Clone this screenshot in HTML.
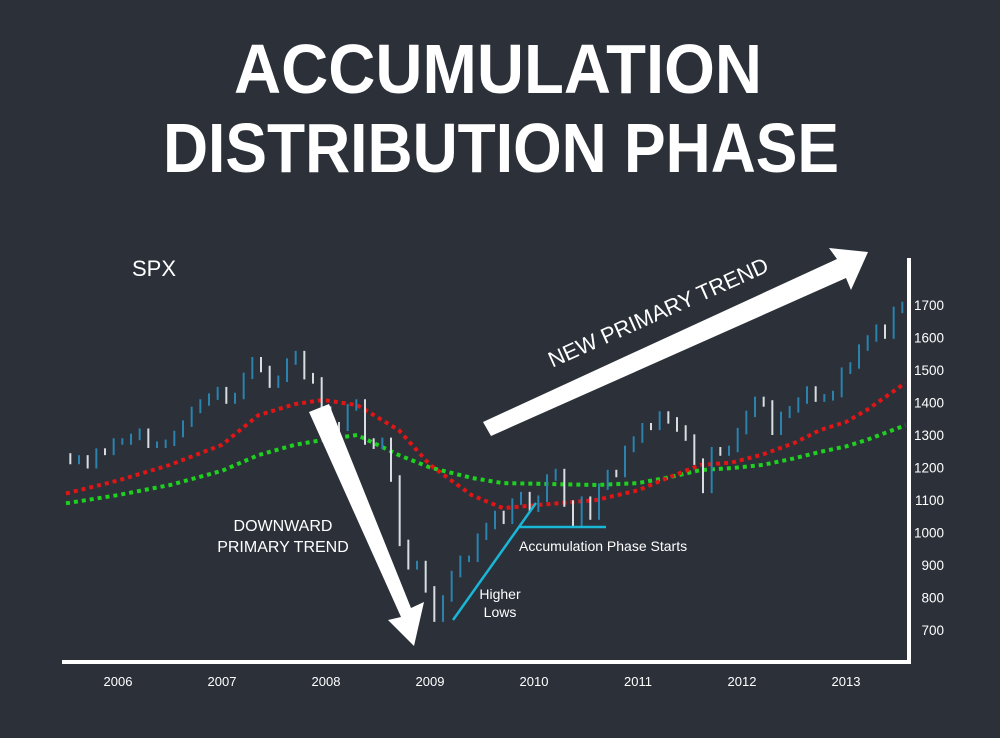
<!DOCTYPE html>
<html><head><meta charset="utf-8"><style>
html,body{margin:0;padding:0;background:#2b3039;}
svg{display:block;font-family:"Liberation Sans",sans-serif;}
</style></head><body>
<svg id="chart" width="1000" height="738" viewBox="0 0 1000 738">
<rect width="1000" height="738" fill="#2b3039"/>
<text x="498" y="93" fill="#fff" font-weight="bold" font-size="70" text-anchor="middle" textLength="528" lengthAdjust="spacingAndGlyphs">ACCUMULATION</text>
<text x="501" y="172" fill="#fff" font-weight="bold" font-size="70" text-anchor="middle" textLength="676" lengthAdjust="spacingAndGlyphs">DISTRIBUTION PHASE</text>
<text x="132" y="276" fill="#fff" font-size="22">SPX</text>
<g id="ma"></g>
<g id="bars"></g>
<g id="axes"></g>
<line x1="62" y1="662" x2="911" y2="662" stroke="#fff" stroke-width="4"/>
<line x1="909" y1="258" x2="909" y2="664" stroke="#fff" stroke-width="4"/>
<polygon points="309,412 329,404 411,608 424,602 414,646 388,620 401,617" fill="#fff"/>
<polygon points="483,422 491,436 846,278 851,290 868,252 829,248 837,259" fill="#fff"/>
<text x="283" y="531" fill="#fff" font-size="16" text-anchor="middle">DOWNWARD</text>
<text x="283" y="552" fill="#fff" font-size="16" text-anchor="middle">PRIMARY TREND</text>
<text x="658" y="320" fill="#fff" font-size="22" text-anchor="middle" transform="rotate(-24 658 312)">NEW PRIMARY TREND</text>
<line x1="453" y1="620" x2="536" y2="503" stroke="#1ab6d6" stroke-width="2.5"/>
<line x1="520" y1="527" x2="606" y2="527" stroke="#1ab6d6" stroke-width="2.5"/>
<text x="500" y="599" fill="#fff" font-size="14" text-anchor="middle">Higher</text>
<text x="500" y="617" fill="#fff" font-size="14" text-anchor="middle">Lows</text>
<text x="519" y="551" fill="#fff" font-size="14">Accumulation Phase Starts</text>
</svg>
<script>
const closes=[1234,1220,1228,1207,1249,1248,
1280,1280,1294,1310,1270,1270,1276,1303,1335,1377,1400,1418,
1438,1406,1420,1482,1530,1503,1455,1473,1526,1549,1481,1468,
1378,1330,1322,1385,1400,1280,1267,1282,1166,968,896,903,
825,735,797,872,919,919,987,1020,1057,1036,1095,1115,
1073,1104,1169,1186,1089,1030,1101,1049,1141,1183,1180,1257,
1286,1327,1325,1363,1345,1320,1292,1218,1131,1253,1246,1257,
1312,1365,1408,1397,1310,1362,1379,1406,1440,1412,1416,1426,
1498,1514,1569,1597,1630,1606,1685,1700];
const startYear=2005.5;
const maTimes=[2005.5,2006.0,2006.5,2007.0,2007.35,2007.7,2007.97,2008.3,2008.7,2009.0,2009.4,2009.7,2010.05,2010.6,2011.0,2011.3,2011.6,2011.9,2012.2,2012.5,2012.75,2013.0,2013.2,2013.57];
const redMA=[1120,1160,1208,1270,1361,1395,1408,1392,1315,1208,1115,1075,1085,1100,1130,1170,1208,1215,1240,1275,1315,1340,1377,1460];
const greenMA=[1090,1115,1146,1190,1238,1270,1285,1300,1238,1200,1168,1152,1150,1146,1152,1170,1192,1198,1208,1228,1248,1265,1285,1330];
const yTicks=[700,800,900,1000,1100,1200,1300,1400,1500,1600,1700];
const xTicks=[2006,2007,2008,2009,2010,2011,2012,2013];
const NS='http://www.w3.org/2000/svg';
function xs(t){return 118+(t-2006)*104;}
function ys(v){return 630-(v-700)*0.325;}
function mk(tag,attrs,parent){const e=document.createElementNS(NS,tag);for(const k in attrs)e.setAttribute(k,attrs[k]);parent.appendChild(e);return e;}
const bars=document.getElementById('bars'),ma=document.getElementById('ma'),axes=document.getElementById('axes');
function drawMA(vals,color,name){
  let d='';vals.forEach((v,i)=>{d+=(i?'L':'M')+xs(maTimes[i]).toFixed(1)+','+ys(v).toFixed(1);});
  const p=mk('path',{d:d,fill:'none',stroke:color,'stroke-width':4,'stroke-dasharray':'4 4'},ma);
  
  
}
drawMA(greenMA,'#1fd11f','moving-average-green');
drawMA(redMA,'#e01515','moving-average-red');
for(let i=1;i<closes.length;i++){
  const t0=startYear+(i-1)/12,t1=startYear+i/12;
  const a=closes[i-1],b=closes[i];
  const hi=Math.max(a,b)+10,lo=Math.min(a,b)-10;
  const up=b>=a;
  const x=(xs(t0)+xs(t1))/2;
  const l=mk('line',{x1:x,x2:x,y1:ys(hi),y2:ys(lo),stroke:up?'#2a82ad':'#d8dde2','stroke-width':2},bars);
  
  
}
yTicks.forEach(v=>{
  const t=mk('text',{x:944,y:ys(v)+5,fill:'#fff','font-size':13.5,'text-anchor':'end'},axes);
  t.textContent=v;
  
  
});
xTicks.forEach(y=>{
  const t=mk('text',{x:xs(y),y:686,fill:'#fff','font-size':13,'text-anchor':'middle'},axes);
  t.textContent=y;
  
  
});
</script>
</body></html>
